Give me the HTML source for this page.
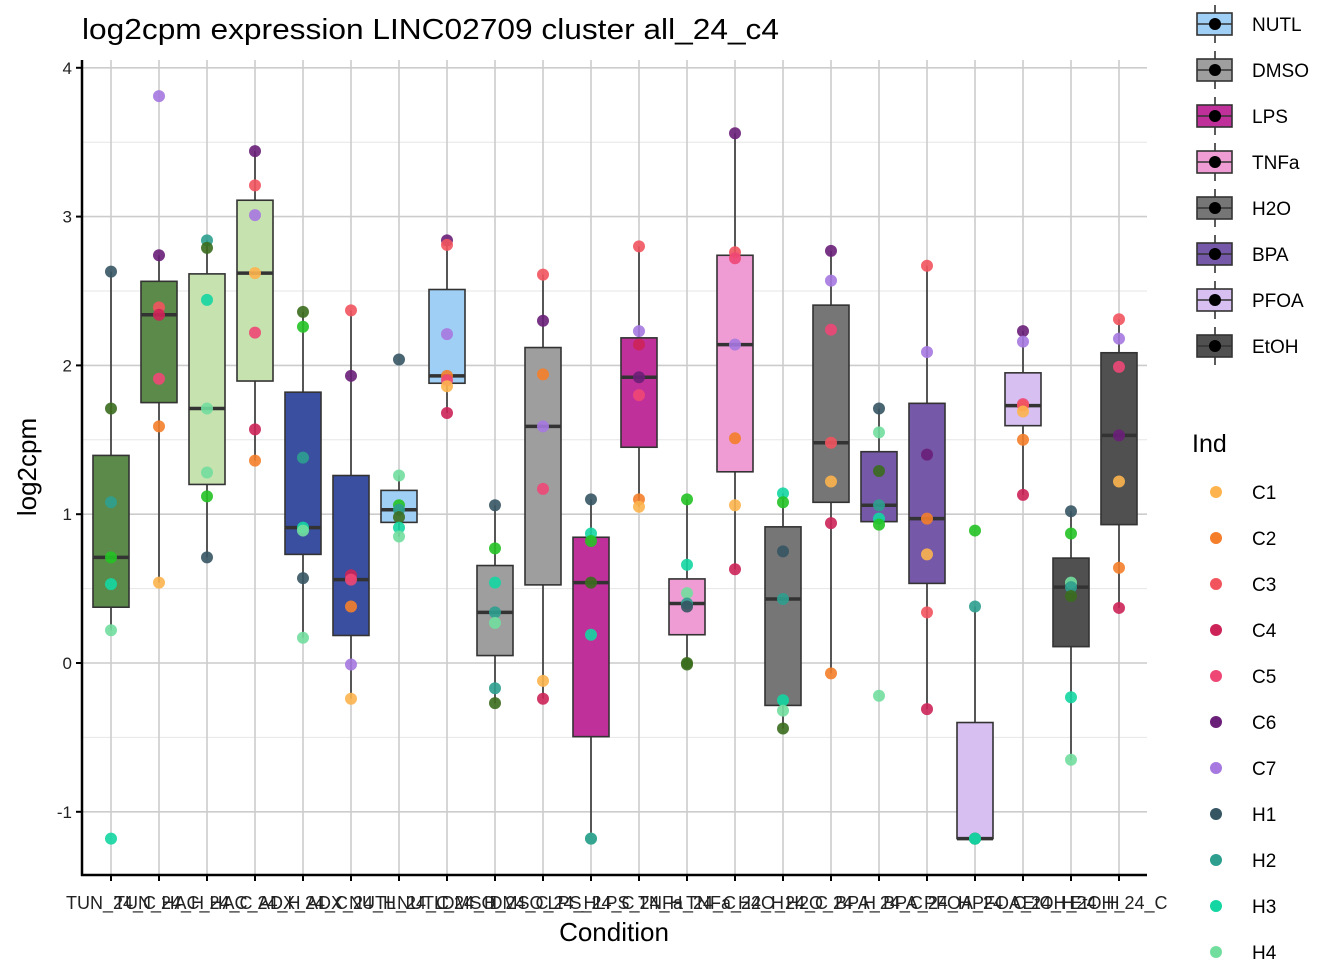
<!DOCTYPE html>
<html><head><meta charset="utf-8"><style>
html,body{margin:0;padding:0;background:#fff;}
svg text{font-family:"Liberation Sans",Arial,sans-serif;}
</style></head><body>
<svg id="chart" width="1344" height="960" xmlns="http://www.w3.org/2000/svg">
<text x="82" y="39" font-size="29" textLength="697" lengthAdjust="spacingAndGlyphs" fill="#000">log2cpm expression LINC02709 cluster all_24_c4</text>
<text transform="translate(36,467) rotate(-90)" text-anchor="middle" font-size="26">log2cpm</text>
<text x="614" y="941" text-anchor="middle" font-size="26">Condition</text>
<g id="plot"></g>
<g id="legend"></g>
</svg>
<script>
const categories=["TUN_24_C","TUN_24_H","HAC_24_C","HAC_24_H","ADX_24_C","ADX_24_H","NUTL_24_C","NUTL_24_H","DMSO_24_C","DMSO_24_H","LPS_24_C","LPS_24_H","TNFa_24_C","TNFa_24_H","H2O_24_C","H2O_24_H","BPA_24_C","BPA_24_H","PFOA_24_C","PFOA_24_H","EtOH_24_H","EtOH_24_C"];
const fills=["#5B8A4A","#5B8A4A","#C6E2AE","#C6E2AE","#3A4FA0","#3A4FA0","#A0CFF5","#A0CFF5","#9E9E9E","#9E9E9E","#C0309A","#C0309A","#F09CD4","#F09CD4","#767676","#767676","#7558A8","#7558A8","#D7BFF2","#D7BFF2","#505050","#505050"];
const values=[
[2.63,1.71,1.08,0.71,0.53,0.22,-1.18],
[3.81,2.74,2.39,2.34,1.91,1.59,0.54],
[2.84,2.79,2.44,1.71,1.28,1.12,0.71],
[3.44,3.21,3.01,2.62,2.22,1.57,1.36],
[2.36,2.26,1.38,0.91,0.89,0.57,0.17],
[2.37,1.93,0.59,0.56,0.38,-0.01,-0.24],
[2.04,1.26,1.06,1.03,0.98,0.91,0.85],
[2.84,2.81,2.21,1.93,1.90,1.86,1.68],
[1.06,0.77,0.54,0.34,0.27,-0.17,-0.27],
[2.61,2.30,1.94,1.59,1.17,-0.12,-0.24],
[1.10,0.87,0.82,0.54,0.19,-1.18,-1.18],
[2.80,2.23,2.14,1.92,1.80,1.10,1.05],
[1.10,0.66,0.47,0.40,0.38,-0.01,0.00],
[3.56,2.76,2.72,2.14,1.51,1.06,0.63],
[1.14,1.08,0.75,0.43,-0.25,-0.32,-0.44],
[2.77,2.57,2.24,1.48,1.22,0.94,-0.07],
[1.71,1.55,1.29,1.06,0.97,0.93,-0.22],
[2.67,2.09,1.40,0.97,0.73,0.34,-0.31],
[0.89,0.38,-1.18,-1.18,-1.18,-1.18,-1.18],
[2.23,2.16,1.74,1.73,1.69,1.50,1.13],
[1.02,0.87,0.54,0.51,0.45,-0.23,-0.65],
[2.31,2.18,1.99,1.53,1.22,0.64,0.37]];
const inds=[
["H1","H5","H2","H6","H3","H4","H3"],
["C7","C6","C3","C4","C5","C2","C1"],
["H2","H5","H3","H4","H4","H6","H1"],
["C6","C3","C7","C1","C5","C4","C2"],
["H5","H6","H2","H3","H4","H1","H4"],
["C3","C6","C4","C5","C2","C7","C1"],
["H1","H4","H6","H2","H5","H3","H4"],
["C6","C3","C7","C2","C5","C1","C4"],
["H1","H6","H3","H2","H4","H2","H5"],
["C3","C6","C2","C7","C5","C1","C4"],
["H1","H3","H6","H5","H3","H4","H2"],
["C3","C7","C4","C6","C5","C2","C1"],
["H6","H3","H4","H2","H1","H5","H5"],
["C6","C3","C5","C7","C2","C1","C4"],
["H3","H6","H1","H2","H3","H4","H5"],
["C6","C7","C5","C3","C1","C4","C2"],
["H1","H4","H5","H2","H3","H6","H4"],
["C3","C7","C6","C2","C1","C3","C4"],
["H6","H2","H1","H4","H5","H2","H3"],
["C6","C7","C5","C3","C1","C2","C4"],
["H1","H6","H4","H2","H5","H3","H4"],
["C3","C7","C5","C6","C1","C2","C4"]];
const yTicks=[-1,0,1,2,3,4];
const legendGroups=["NUTL","DMSO","LPS","TNFa","H2O","BPA","PFOA","EtOH"];
const legendFills=["#A0CFF5","#9E9E9E","#C0309A","#F09CD4","#767676","#7558A8","#D7BFF2","#505050"];
const indNames=["C1","C2","C3","C4","C5","C6","C7","H1","H2","H3","H4"];
const indColors={C1:"#FDB44E",C2:"#F47E2A",C3:"#F2545E",C4:"#CC2458",C5:"#EE4776",C6:"#6A1F78",C7:"#A678E0",H1:"#365563",H2:"#2E9E8F",H3:"#14D6A2",H4:"#72DE9E",H5:"#3B6D1E",H6:"#24C224"};

const NS="http://www.w3.org/2000/svg";
const L=82,R=1147,T=60,B=875;
const y=v=>663-v*148.8;
const x=i=>111+i*48;
function mk(tag,attrs,parent){const e=document.createElementNS(NS,tag);for(const k in attrs)e.setAttribute(k,attrs[k]);parent.appendChild(e);return e;}
const plot=document.getElementById('plot');
for(let v=-1.5;v<=4;v+=0.5){const isMajor=Number.isInteger(v);if(y(v)<T||y(v)>B)continue;
 const g=mk('line',{x1:L,x2:R,y1:y(v),y2:y(v),stroke:isMajor?'#cccccc':'#e6e6e6','stroke-width':isMajor?1.6:1},plot);
 
 }
categories.forEach((c,i)=>{const g=mk('line',{x1:x(i),x2:x(i),y1:T,y2:B,stroke:'#cccccc','stroke-width':1.6},plot);
 
 });
function q(s,p){const h=(s.length-1)*p,lo=Math.floor(h),hi=Math.ceil(h);return s[lo]+(s[hi]-s[lo])*(h-lo);}
categories.forEach((c,i)=>{
 const s=values[i].slice().sort((a,b)=>a-b);
 const q1=q(s,0.25),md=q(s,0.5),q3=q(s,0.75),iqr=q3-q1;
 const lo=Math.min(...s.filter(v=>v>=q1-1.5*iqr)),hi=Math.max(...s.filter(v=>v<=q3+1.5*iqr));
 const g=mk('g',{},plot);
 
 
 mk('line',{x1:x(i),x2:x(i),y1:y(hi),y2:y(q3),stroke:'#333','stroke-width':1.6},g);
 mk('line',{x1:x(i),x2:x(i),y1:y(q1),y2:y(lo),stroke:'#333','stroke-width':1.6},g);
 mk('rect',{x:x(i)-18,y:y(q3),width:36,height:Math.max(y(q1)-y(q3),1),fill:fills[i],stroke:'#333','stroke-width':1.6},g);
 mk('line',{x1:x(i)-18,x2:x(i)+18,y1:y(md),y2:y(md),stroke:'#333','stroke-width':3.5},g);
});
categories.forEach((c,i)=>{values[i].forEach((v,j)=>{
 const p=mk('circle',{cx:x(i),cy:y(v),r:6,fill:indColors[inds[i][j]],'fill-opacity':0.9},plot);
 
 
});});
const ax=mk('line',{x1:L,x2:L,y1:T,y2:B+1,stroke:'#000','stroke-width':2.5},plot);


const bx=mk('line',{x1:L-1,x2:R,y1:B,y2:B,stroke:'#000','stroke-width':2.5},plot);


yTicks.forEach(v=>{mk('line',{x1:L-6,x2:L,y1:y(v),y2:y(v),stroke:'#000','stroke-width':2},plot);
 const t=mk('text',{x:L-10,y:y(v)+6,'text-anchor':'end','font-size':17,fill:'#222'},plot);t.textContent=v;
 
 });
categories.forEach((c,i)=>{mk('line',{x1:x(i),x2:x(i),y1:B,y2:B+6,stroke:'#000','stroke-width':2},plot);
 const t=mk('text',{x:x(i),y:909,'text-anchor':'middle','font-size':18,fill:'#222'},plot);t.textContent=c;
 
 });
const lg=document.getElementById('legend');
legendGroups.forEach((n,k)=>{const cy=24+k*46;
 const g=mk('g',{},lg);
 
 
 mk('line',{x1:1215,x2:1215,y1:cy-19,y2:cy+19,stroke:'#333','stroke-width':1.6},g);
 mk('rect',{x:1197,y:cy-11,width:35,height:22,fill:legendFills[k],stroke:'#333','stroke-width':1.6},g);
 mk('line',{x1:1197,x2:1232,y1:cy,y2:cy,stroke:'#333','stroke-width':1.6},g);
 mk('circle',{cx:1215,cy:cy,r:6,fill:'#000'},g);
 const t=mk('text',{x:1252,y:cy+7,'font-size':19},g);t.textContent=n;});
const it=mk('text',{x:1192,y:452,'font-size':25},lg);it.textContent='Ind';


indNames.forEach((n,k)=>{const cy=492+k*46;
 const g=mk('g',{},lg);
 
 
 mk('circle',{cx:1216,cy:cy,r:6,fill:indColors[n]},g);
 const t=mk('text',{x:1252,y:cy+7,'font-size':19},g);t.textContent=n;});
</script>
</body></html>
